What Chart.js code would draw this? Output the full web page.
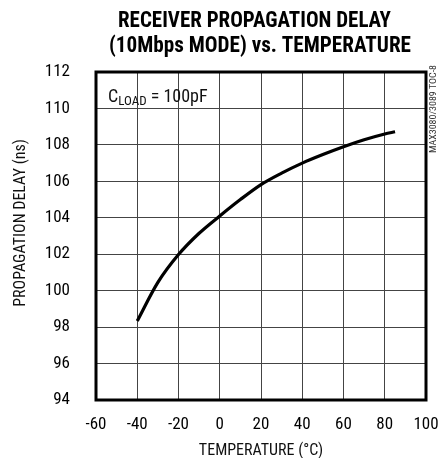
<!DOCTYPE html>
<html>
<head>
<meta charset="utf-8">
<script src="https://cdn.jsdelivr.net/npm/chart.js@4.4.1/dist/chart.umd.min.js"></script>
<style>
  html, body { margin: 0; padding: 0; background: #ffffff; }
  #wrap { width: 438px; height: 458px; }
</style>
</head>
<body>
<div id="wrap"><canvas id="c" width="438" height="458"></canvas></div>
<script>
// ---- data ----
const titleLines = ["RECEIVER PROPAGATION DELAY", "(10Mbps MODE) vs. TEMPERATURE"];
const xTitle = "TEMPERATURE (°C)";
const yTitle = "PROPAGATION DELAY (ns)";
const noteMain = "C";
const noteSub = "LOAD";
const noteRest = " = 100pF";
const sideTag = "MAX3080/3089 TOC-8";
const xTicks = [-60, -40, -20, 0, 20, 40, 60, 80, 100];
const yTicks = [94, 96, 98, 100, 102, 104, 106, 108, 110, 112];
const temperature = [-40, -30, -20, -10, 0, 10, 20, 30, 40, 50, 60, 70, 80, 85];
const delayNs = [98.33, 100.45, 101.98, 103.15, 104.1, 105.0, 105.82, 106.45, 107.0, 107.47, 107.9, 108.28, 108.6, 108.72];

const FONT = "'Roboto Condensed', 'DejaVu Sans Condensed', sans-serif";

// title layout (centre x, centre y, target width) per line
const titleBoxes = [[254.5, 21, 273], [260, 46, 302]];

const extras = {
  id: 'extras',
  afterDraw(chart) {
    const ctx = chart.ctx;
    const a = chart.chartArea;
    ctx.save();
    // frame
    ctx.strokeStyle = '#000';
    ctx.lineWidth = 3;
    ctx.strokeRect(a.left, a.top, a.right - a.left, a.bottom - a.top);
    // title
    ctx.fillStyle = '#000';
    ctx.font = "bold 22px " + FONT;
    ctx.textAlign = 'center';
    ctx.textBaseline = 'middle';
    titleLines.forEach((t, i) => {
      const [cx, cy, tw] = titleBoxes[i];
      const mw = ctx.measureText(t).width;
      ctx.save();
      ctx.translate(cx, cy);
      ctx.scale(tw / mw, 1);
      ctx.fillText(t, 0, 0);
      ctx.restore();
    });
    // y title
    ctx.fillStyle = '#111';
    ctx.font = "16px " + FONT;
    ctx.save();
    ctx.translate(21, 223);
    ctx.rotate(-Math.PI / 2);
    ctx.fillText(yTitle, 0, 0);
    ctx.restore();
    // annotation C_LOAD
    ctx.textAlign = 'left';
    ctx.textBaseline = 'alphabetic';
    let x = a.left + 12, y = a.top + 30;
    ctx.font = "18px " + FONT;
    ctx.fillText(noteMain, x, y);
    x += ctx.measureText(noteMain).width;
    ctx.font = "13px " + FONT;
    ctx.fillText(noteSub, x, y + 3);
    x += ctx.measureText(noteSub).width;
    ctx.font = "18px " + FONT;
    ctx.fillText(noteRest, x, y);
    // side tag
    ctx.font = "8.5px " + FONT;
    ctx.fillStyle = '#333';
    ctx.textAlign = 'center';
    ctx.textBaseline = 'middle';
    const w = ctx.measureText(sideTag).width;
    ctx.save();
    ctx.translate(434, 109);
    ctx.rotate(-Math.PI / 2);
    ctx.scale(88 / w, 1);
    ctx.fillText(sideTag, 0, 0);
    ctx.restore();
    ctx.restore();
  }
};

new Chart(document.getElementById('c'), {
  type: 'line',
  data: {
    datasets: [{
      data: temperature.map((t, i) => ({ x: t, y: delayNs[i] })),
      borderColor: '#000',
      borderWidth: 3.2,
      pointRadius: 0,
      cubicInterpolationMode: 'monotone',
      fill: false
    }]
  },
  options: {
    responsive: false,
    animation: false,
    devicePixelRatio: 1,
    layout: { padding: { left: 0, right: 12, top: 72, bottom: 0 } },
    plugins: {
      legend: { display: false },
      tooltip: { enabled: false },
      title: { display: false }
    },
    scales: {
      x: {
        type: 'linear',
        min: -60, max: 100,
        afterBuildTicks: s => { s.ticks = xTicks.map(v => ({ value: v })); },
        afterFit: s => { s.height = 58; s.paddingLeft = 0; s.paddingRight = 0; },
        grid: { color: '#444', lineWidth: 1, drawTicks: false },
        border: { display: false },
        ticks: { color: '#000', padding: 15, font: { family: FONT, size: 17 }, maxRotation: 0 },
        title: { display: true, text: xTitle, color: '#111', font: { family: FONT, size: 16 }, padding: { top: 0, bottom: -3 } }
      },
      y: {
        type: 'linear',
        min: 94, max: 112,
        afterBuildTicks: s => { s.ticks = yTicks.map(v => ({ value: v })); },
        afterFit: s => { s.width = 96; s.paddingTop = 0; s.paddingBottom = 0; },
        grid: { color: '#444', lineWidth: 1, drawTicks: false },
        border: { display: false },
        ticks: { color: '#000', padding: 26, font: { family: FONT, size: 17 } }
      }
    }
  },
  plugins: [extras]
});
</script>
</body>
</html>
